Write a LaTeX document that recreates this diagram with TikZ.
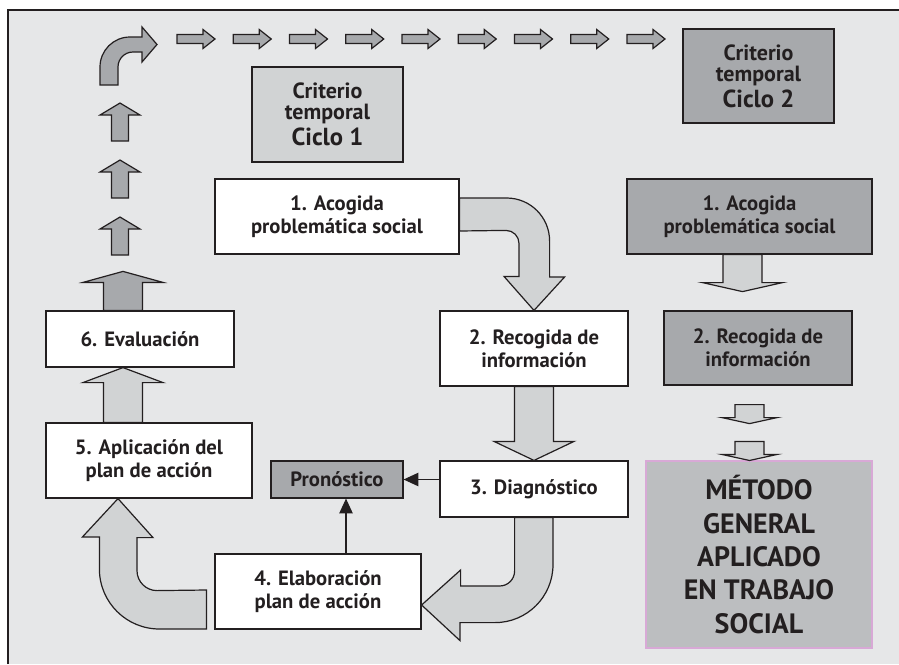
\documentclass[tikz,border=0pt]{standalone}
\usepackage{fontspec}
\setmainfont{PT Sans}
\usetikzlibrary{calc,arrows.meta}

\definecolor{fondo}{HTML}{E6E7E8}
\definecolor{grisclaro}{HTML}{D1D3D4}
\definecolor{grisoscuro}{HTML}{A7A9AC}
\definecolor{grismedio}{HTML}{BCBEC0}
\definecolor{rosa}{HTML}{D8A9D6}
\definecolor{tinta}{HTML}{231F20}

% vertical block arrow: fill, tail, tip, shaft half, head half, head base offset
\newcommand\vflecha[6]{%
  \draw[bloque,fill=#1] (#3) -- ($(#3)+(#5,#6)$) -- ($(#3)+(#4,#6)$)
    -- ($(#3 |- #2)+(#4,0)$) -- ($(#3 |- #2)+(-#4,0)$)
    -- ($(#3)+(-#4,#6)$) -- ($(#3)+(-#5,#6)$) -- cycle;}

\begin{document}
\begin{tikzpicture}[x=0.75pt,y=-0.75pt,
  caja/.style={draw=tinta,line width=0.9pt,fill=white,align=center,text=tinta,
    inner sep=0pt,font=\bfseries\fontsize{15.5}{17.5}\selectfont},
  criterio/.style={caja,minimum width=113.25pt,font=\bfseries\fontsize{16.5}{16}\selectfont},
  bloque/.style={draw=tinta,line width=0.9pt,line join=miter},
  fina/.style={draw=tinta,line width=0.8pt,-{Triangle[length=11pt,width=10pt]}}]
\useasboundingbox (0,0) rectangle (899,664);
\fill[white] (0,0) rectangle (899,664);
\fill[fondo] (8,10) rectangle (899,664);
\draw[tinta,line width=2.2pt] (8,664) -- (8,10) -- (899,10);

% cycle 1
\node[criterio,fill=grisclaro,minimum height=71.25pt] (crit1) at (327.5,114.5)
  {Criterio\\temporal\\[2pt]\fontsize{18.5}{20}\selectfont Ciclo 1};
\node[caja,minimum width=183pt,minimum height=56.25pt] (b1) at (337,216.5) {1. Acogida\\problemática social};
\node[caja,minimum width=141pt,minimum height=56.25pt] (b2) at (534,348.5) {2. Recogida de\\información};
\node[caja,minimum width=141pt,minimum height=42pt] (b3) at (534,489) {3. Diagnóstico};
\node[caja,minimum width=154.5pt,minimum height=56.25pt] (b4) at (318,591.5) {4. Elaboración\\plan de acción};
\node[caja,minimum width=154.5pt,minimum height=56.25pt] (b5) at (149,460.5) {5. Aplicación del\\plan de acción};
\node[caja,minimum width=141pt,minimum height=42pt] (b6) at (140,339) {6. Evaluación};
\node[caja,fill=grisoscuro,minimum width=99pt,minimum height=27.75pt] (prono) at (337,479.5) {Pronóstico};

% cycle 2
\node[criterio,fill=grisoscuro,minimum height=70.5pt] (crit2) at (758.5,76)
  {Criterio\\temporal\\[2pt]\fontsize{18.5}{20}\selectfont Ciclo 2};
\node[caja,fill=grisoscuro,minimum width=183.75pt,minimum height=56.25pt] (r1) at (749.5,216.5) {1. Acogida\\problemática social};
\node[caja,fill=grisoscuro,minimum width=141pt,minimum height=55.5pt] (r2) at (758,348) {2. Recogida de\\información};
\node[caja,fill=grismedio,draw=rosa,line width=0.8pt,minimum width=169.5pt,minimum height=140.25pt,
  font=\bfseries\fontsize{21}{25}\selectfont] (metodo) at (759,554.5)
  {MÉTODO\\GENERAL\\APLICADO\\EN TRABAJO\\SOCIAL};

% free ends
\coordinate (t4) at ($(b4.east)+(0,13.5)$);
\coordinate (t5) at ($(b5.south)+(-31,0)$);
\coordinate (t6) at ($(b6.south)+(-17,0)$);
\coordinate (t7) at ($(b6.north)+(-17,-39)$);
\coordinate (f1) at ($(r1.south)+(-7,37)$);
\coordinate (m1) at ($(r2.south)+(-8.5,19)$);
\coordinate (m2) at ($(m1)+(0,19)$);
\coordinate (m3) at ($(metodo.north)+(-9.5,-19)$);
\coordinate (m4) at ($(metodo.north)+(-9.5,0)$);

% block arrows
\draw[bloque,fill=grisclaro] (b2.north) -- ++(-30,-34) -- ++(15,0) -- ++(0,-33)
  arc[start angle=0,end angle=90,radius=9.75pt] -- ($(b1.east)+(0,14.5)$) -- ++(0,-33) -- ++(47,0)
  arc[start angle=90,end angle=0,radius=32.25pt] -- ++(0,36) -- ++(15,0) -- cycle;
\vflecha{grisclaro}{b2.south}{b3.north}{19.5}{40}{-19}
\draw[bloque,fill=grisclaro] (t4) -- ++(39,-35) -- ++(0,16) -- ++(39,0)
  arc[start angle=-90,end angle=0,radius=11.25pt] |- (b3.south) -- ++(19,0) -- ++(0,47)
  arc[start angle=0,end angle=-90,radius=43.5pt] -- ++(-35,0) -- ++(0,18) -- cycle;
\draw[bloque,fill=grisclaro] (t5) -- ++(35,39) -- ++(-16,0) -- ++(0,33)
  arc[start angle=180,end angle=270,radius=15pt] -- ($(b4.west)+(-8,-1.5)$) -- ++(0,39) -- ++(-47,0)
  arc[start angle=270,end angle=180,radius=45pt] -- ++(0,-32) -- ++(-17,0) -- cycle;
\vflecha{grisclaro}{b5.north}{t6}{19.5}{40}{15}
\vflecha{grisoscuro}{b6.north}{t7}{19.5}{40}{11}
\vflecha{grisclaro}{r1.south}{f1}{19.5}{40}{-9}
\vflecha{grisclaro}{m1}{m2}{14.5}{27.5}{-6}
\vflecha{grisclaro}{m3}{m4}{14.5}{27.5}{-6}

% time line
\foreach \y in {103,160,217}
  \draw[bloque,fill=grisoscuro] (120,\y) -- ++(20,12) -- ++(-11.5,0) -- ++(0,26)
    -- ++(-17,0) -- ++(0,-26) -- ++(-11.5,0) -- cycle;
\draw[bloque,fill=grisoscuro] (100,85) -- (100,67) arc[start angle=180,end angle=90,radius=22.5pt]
  -- (142,37) -- (142,27) -- (157,44.5) -- (142,62) -- (142,52) -- (133,52)
  arc[start angle=90,end angle=180,radius=11.25pt] -- (118,85) -- cycle;
\foreach \i [evaluate=\i as \x using 177+56.25*\i] in {0,...,8}
  \draw[bloque,fill=grisoscuro] (\x,34.5) -- ++(26,0) -- ++(0,-5) -- ++(12,9.5)
    -- ++(-12,9.5) -- ++(0,-5) -- ++(-26,0) -- cycle;

% thin arrows
\draw[fina] (b3.west |- prono.east) -- (prono.east);
\draw[fina] ($(b4.north)+(28,0)$) -- ($(prono.south)+(9,0)$);
\end{tikzpicture}
\end{document}
